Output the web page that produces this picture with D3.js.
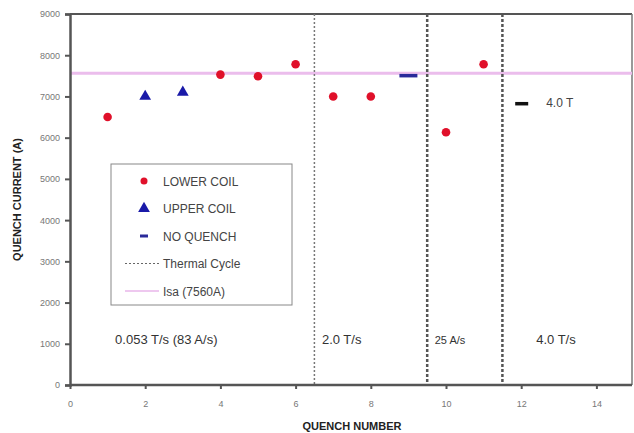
<!DOCTYPE html>
<html>
<head>
<meta charset="utf-8">
<script src="https://cdn.jsdelivr.net/npm/d3@7"></script>
<style>
  body { margin: 0; background: #fff; }
  text { font-family: Arial, "Liberation Sans", sans-serif; }
</style>
</head>
<body>
<svg id="chart" width="634" height="433"></svg>
<script>
// data
var lowerX = [1, 4, 5, 6, 7, 8, 10, 11];
var lowerY = [6500, 7530, 7490, 7780, 7000, 7000, 6130, 7780];
var upperX = [2, 3];
var upperY = [7000, 7100];
var noQuenchX = [9];
var noQuenchY = [7510];
var fieldX = [12];
var fieldY = [6830];
var cycleX = [6.5, 9.5, 11.5];
var isa = 7560;
var xTicks = [0, 2, 4, 6, 8, 10, 12, 14];
var yTicks = [0, 1000, 2000, 3000, 4000, 5000, 6000, 7000, 8000, 9000];
var regions = [
  {x: 1.2, label: "0.053 T/s (83 A/s)", size: 13},
  {x: 6.7, label: "2.0 T/s", size: 13},
  {x: 9.7, label: "25 A/s", size: 11},
  {x: 12.4, label: "4.0 T/s", size: 13}
];
var legendItems = ["LOWER COIL", "UPPER COIL", "NO QUENCH", "Thermal Cycle", "Isa (7560A)"];

var svg = d3.select("#chart"),
    margin = {top: 14, right: 2, bottom: 48, left: 70},
    width = +svg.attr("width") - margin.left - margin.right,
    height = +svg.attr("height") - margin.top - margin.bottom;

var x = d3.scaleLinear().domain([0, 15]).range([0, width + 2]),
    y = d3.scaleLinear().domain([0, 9000]).range([height, 0]);

var g = svg.append("g")
    .attr("transform", "translate(" + margin.left + "," + margin.top + ")");

// frame top and right
g.append("line").attr("x1", 0).attr("x2", width).attr("y1", 0).attr("y2", 0)
    .attr("stroke", "#555").attr("stroke-width", 2);
g.append("line").attr("x1", width).attr("x2", width).attr("y1", 0).attr("y2", height)
    .attr("stroke", "#777").attr("stroke-width", 1.5);

// Isa line
g.append("line")
    .attr("x1", 0).attr("x2", width)
    .attr("y1", y(isa)).attr("y2", y(isa))
    .attr("stroke", "#ebbdec").attr("stroke-width", 3);

// thermal cycle lines
g.selectAll(".cycle")
  .data(cycleX)
  .enter().append("line")
    .attr("class", "cycle")
    .attr("x1", function(d) { return x(d); })
    .attr("x2", function(d) { return x(d); })
    .attr("y1", 0).attr("y2", height)
    .attr("stroke", function(d, i) { return i == 0 ? "#777" : "#555"; })
    .attr("stroke-width", function(d, i) { return i == 0 ? 1.5 : 2.5; })
    .attr("stroke-dasharray", function(d, i) { return i == 0 ? "2,2" : "3,2"; });

// axes
var xAxis = g.append("g")
    .attr("transform", "translate(0," + height + ")")
    .call(d3.axisBottom(x).tickValues(xTicks).tickSize(4).tickPadding(12).tickFormat(d3.format("d")));
var yAxis = g.append("g")
    .call(d3.axisLeft(y).tickValues(yTicks).tickSize(5).tickPadding(5).tickFormat(d3.format("d")));

[xAxis, yAxis].forEach(function(a) {
  a.select(".domain").attr("stroke", "#555").attr("stroke-width", 2.5);
  a.selectAll(".tick line").attr("stroke", "#555").attr("stroke-width", 2);
  a.selectAll(".tick text").attr("fill", "#777").style("font-size", "9px");
});
xAxis.select(".domain").attr("d", "M0,0H" + width);

// lower coil points
g.selectAll(".lower")
  .data(lowerX)
  .enter().append("circle")
    .attr("class", "lower")
    .attr("cx", function(d) { return x(d); })
    .attr("cy", function(d, i) { return y(lowerY[i]); })
    .attr("r", 4.3)
    .attr("fill", "#e0102a");

// upper coil points
var tri = d3.symbol().type(d3.symbolTriangle).size(60);
g.selectAll(".upper")
  .data(upperX)
  .enter().append("path")
    .attr("class", "upper")
    .attr("d", tri)
    .attr("transform", function(d, i) { return "translate(" + x(d) + "," + y(upperY[i]) + ")"; })
    .attr("fill", "#1a1aa8");

// no quench
g.selectAll(".noq")
  .data(noQuenchX)
  .enter().append("rect")
    .attr("class", "noq")
    .attr("x", function(d) { return x(d) - 9; })
    .attr("y", function(d, i) { return y(noQuenchY[i]) - 1.5; })
    .attr("width", 18).attr("height", 3.5)
    .attr("fill", "#2a2a9a");

// 4.0 T marker
g.selectAll(".field")
  .data(fieldX)
  .enter().append("rect")
    .attr("class", "field")
    .attr("x", function(d) { return x(d) - 6; })
    .attr("y", function(d, i) { return y(fieldY[i]) - 1.5; })
    .attr("width", 13).attr("height", 3.5)
    .attr("fill", "#111");
g.append("text")
    .attr("x", x(fieldX[0]) + 25).attr("y", y(fieldY[0]) + 4)
    .attr("fill", "#444").style("font-size", "12px")
    .text("4.0 T");

// region labels
g.selectAll(".region")
  .data(regions)
  .enter().append("text")
    .attr("class", "region")
    .attr("x", function(d) { return x(d.x); })
    .attr("y", y(1000))
    .attr("fill", "#333")
    .style("font-size", function(d) { return d.size + "px"; })
    .text(function(d) { return d.label; });

// axis titles
svg.append("text")
    .attr("x", margin.left + x(7.5)).attr("y", 430)
    .attr("text-anchor", "middle")
    .attr("fill", "#222").style("font-size", "11px").style("font-weight", "bold")
    .text("QUENCH NUMBER");
svg.append("text")
    .attr("transform", "translate(21," + (margin.top + y(4500)) + ") rotate(-90)")
    .attr("text-anchor", "middle")
    .attr("fill", "#222").style("font-size", "11px").style("font-weight", "bold")
    .text("QUENCH CURRENT (A)");

// legend
var lg = svg.append("g").attr("transform", "translate(111,164)");
lg.append("rect").attr("width", 181).attr("height", 141)
    .attr("fill", "#fff").attr("stroke", "#888").attr("stroke-width", 1);
var row = lg.selectAll(".row")
  .data(legendItems)
  .enter().append("g")
    .attr("class", "row")
    .attr("transform", function(d, i) { return "translate(0," + (17 + i * 27.5) + ")"; });
row.append("text")
    .attr("x", 52).attr("y", 4.5)
    .attr("fill", "#444").style("font-size", "12px")
    .text(function(d) { return d; });
row.each(function(d, i) {
  var r = d3.select(this);
  if (i == 0) r.append("circle").attr("cx", 33).attr("r", 3.5).attr("fill", "#e0102a");
  if (i == 1) r.append("path").attr("d", tri).attr("transform", "translate(33,0)").attr("fill", "#1a1aa8");
  if (i == 2) r.append("rect").attr("x", 29).attr("y", -1.5).attr("width", 8).attr("height", 3).attr("fill", "#2a2a9a");
  if (i == 3) r.append("line").attr("x1", 14).attr("x2", 48).attr("stroke", "#666").attr("stroke-dasharray", "2,2");
  if (i == 4) r.append("line").attr("x1", 14).attr("x2", 48).attr("stroke", "#e9b6ea").attr("stroke-width", 1.5);
});
</script>
</body>
</html>
